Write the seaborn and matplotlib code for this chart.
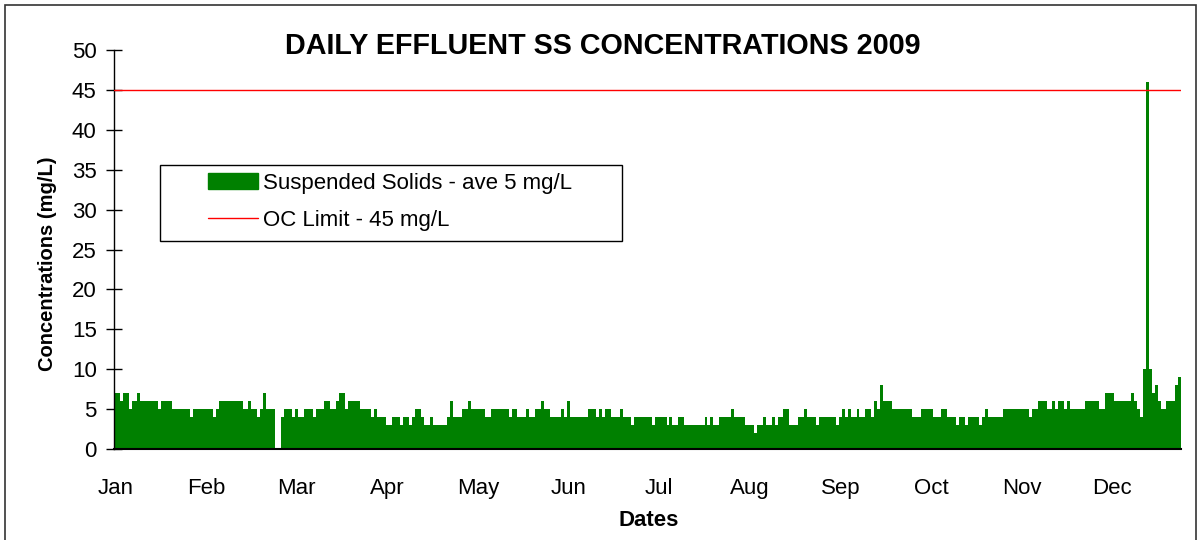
import numpy as np
import pandas as pd
import matplotlib
matplotlib.use("Agg")
import matplotlib.pyplot as plt
from matplotlib.patches import Patch, Rectangle
from matplotlib.lines import Line2D
import seaborn as sns

# Daily effluent suspended solids (mg/L), 2009, one list per month
jan = [7, 7, 6, 7, 7, 5, 6, 6, 7, 6, 6, 6, 6, 6, 6, 5, 6, 6, 6, 6, 5, 5, 5, 5, 5, 5, 4, 5, 5, 5, 5]
feb = [5, 5, 5, 4, 5, 6, 6, 6, 6, 6, 6, 6, 6, 5, 5, 6, 5, 5, 4, 5, 7, 5, 5, 5, 0, 0, 4, 5]
mar = [5, 5, 4, 5, 4, 4, 5, 5, 5, 4, 5, 5, 5, 6, 6, 5, 5, 6, 7, 7, 5, 6, 6, 6, 6, 5, 5, 5, 5, 4, 5]
apr = [4, 4, 4, 3, 3, 4, 4, 4, 3, 4, 4, 3, 4, 5, 5, 4, 3, 3, 4, 3, 3, 3, 3, 3, 4, 6, 4, 4, 4, 5]
may = [5, 6, 5, 5, 5, 5, 5, 4, 4, 5, 5, 5, 5, 5, 5, 4, 5, 5, 4, 4, 4, 5, 4, 4, 5, 5, 6, 5, 5, 4, 4]
jun = [4, 4, 5, 4, 6, 4, 4, 4, 4, 4, 4, 5, 5, 5, 4, 5, 4, 5, 5, 4, 4, 4, 5, 4, 4, 4, 3, 4, 4, 4]
jul = [4, 4, 4, 3, 4, 4, 4, 4, 3, 4, 3, 3, 4, 4, 3, 3, 3, 3, 3, 3, 3, 4, 3, 4, 3, 3, 4, 4, 4, 4, 5]
aug = [4, 4, 4, 4, 3, 3, 3, 2, 3, 3, 4, 3, 3, 4, 3, 4, 4, 5, 5, 3, 3, 3, 4, 4, 5, 4, 4, 4, 3, 4, 4]
sep = [4, 4, 4, 4, 3, 4, 5, 4, 5, 4, 4, 5, 4, 4, 5, 5, 4, 6, 5, 8, 6, 6, 6, 5, 5, 5, 5, 5, 5, 5]
oct_ = [4, 4, 4, 5, 5, 5, 5, 4, 4, 4, 5, 5, 4, 4, 4, 3, 4, 4, 3, 4, 4, 4, 4, 3, 4, 5, 4, 4, 4, 4, 4]
nov = [5, 5, 5, 5, 5, 5, 5, 5, 5, 4, 5, 5, 6, 6, 6, 5, 5, 6, 5, 6, 6, 5, 6, 5, 5, 5, 5, 5, 6, 6]
dec = [6, 6, 6, 5, 5, 7, 7, 7, 6, 6, 6, 6, 6, 6, 7, 6, 5, 4, 10, 46, 10, 7, 8, 6, 5, 5, 6, 6, 6, 8, 9]

month_labels = ["Jan", "Feb", "Mar", "Apr", "May", "Jun",
                "Jul", "Aug", "Sep", "Oct", "Nov", "Dec"]
label_step = 31            # category-axis label interval (days)
oc_limit = 45              # operating certificate limit, mg/L
y_ticks = list(range(0, 51, 5))

series_label = "Suspended Solids - ave 5 mg/L"
limit_label = "OC Limit - 45 mg/L"
title_text = "DAILY EFFLUENT SS CONCENTRATIONS 2009"

ss = jan + feb + mar + apr + may + jun + jul + aug + sep + oct_ + nov + dec
df = pd.DataFrame({"day": np.arange(len(ss)), "ss": ss})

sns.set_style("white")
plt.rcParams["font.family"] = ["Liberation Sans", "DejaVu Sans"]
for key in ("text.color", "axes.labelcolor", "xtick.color", "ytick.color"):
    plt.rcParams[key] = "black"

W, H = 1199, 540
fig = plt.figure(figsize=(W / 100, H / 100), dpi=100)
fig.patch.set_facecolor("white")

# plot area in pixel terms
left, right, top, bottom = 114, 1181, 50, 449
ax = fig.add_axes([left / W, 1 - bottom / H, (right - left) / W, (bottom - top) / H])

green = "#008000"
sns.barplot(data=df, x="day", y="ss", color=green, native_scale=True,
            width=1, linewidth=0, saturation=1, errorbar=None, ax=ax)
ax.axhline(oc_limit, color="red", lw=1.0, zorder=3)

ax.set_xlim(-0.5, len(ss) - 0.5)
ax.set_ylim(0, 50)
ax.set_yticks(y_ticks)
ax.set_yticklabels([str(v) for v in y_ticks])
ax.set_xticks([i * label_step for i in range(len(month_labels))])
ax.set_xticklabels(month_labels)
ax.set_xlabel("")
ax.set_ylabel("")

ax.tick_params(axis="y", direction="inout", length=11, width=1, color="black",
               pad=7, labelsize=16, left=True)
ax.tick_params(axis="x", length=0, pad=21, labelsize=16)

for side in ("top", "right"):
    ax.spines[side].set_visible(False)
ax.spines["left"].set_color("black")
ax.spines["left"].set_linewidth(1.0)
ax.spines["bottom"].set_color("black")
ax.spines["bottom"].set_linewidth(1.5)
ax.grid(False)

# titles
fig.text(603 / W, 1 - 54 / H, title_text, ha="center", va="baseline",
         fontsize=20.7, fontweight="bold")
fig.text(48 / W, 1 - 264 / H, "Concentrations (mg/L)", rotation=90,
         ha="center", va="center", fontsize=14.5, fontweight="bold")
fig.text(649 / W, 1 - 520 / H, "Dates", ha="center", va="center",
         fontsize=16, fontweight="bold")

# legend box and entries
fig.patches.append(Rectangle((160 / W, 1 - 241 / H), (622 - 160) / W, (241 - 165) / H,
                             transform=fig.transFigure, facecolor="white",
                             edgecolor="black", lw=1.0, zorder=5))
handles = [Patch(facecolor=green, edgecolor=green),
           Line2D([0], [0], color="red", lw=1.0)]
leg = fig.legend(handles, [series_label, limit_label], loc="upper left",
                 bbox_to_anchor=(208 / W, 1 - 173 / H), frameon=False,
                 fontsize=16, handlelength=2.25, handletextpad=0.22,
                 labelspacing=0.73, borderpad=0, borderaxespad=0)
leg.set_zorder(6)

# chart border
fig.patches.append(Rectangle((5 / W, -0.05), (1196 - 5) / W, 1 - 5 / H + 0.05,
                             transform=fig.transFigure, fill=False,
                             edgecolor="#333333", lw=1.2, zorder=0))

fig.savefig("out.png", dpi=100)
